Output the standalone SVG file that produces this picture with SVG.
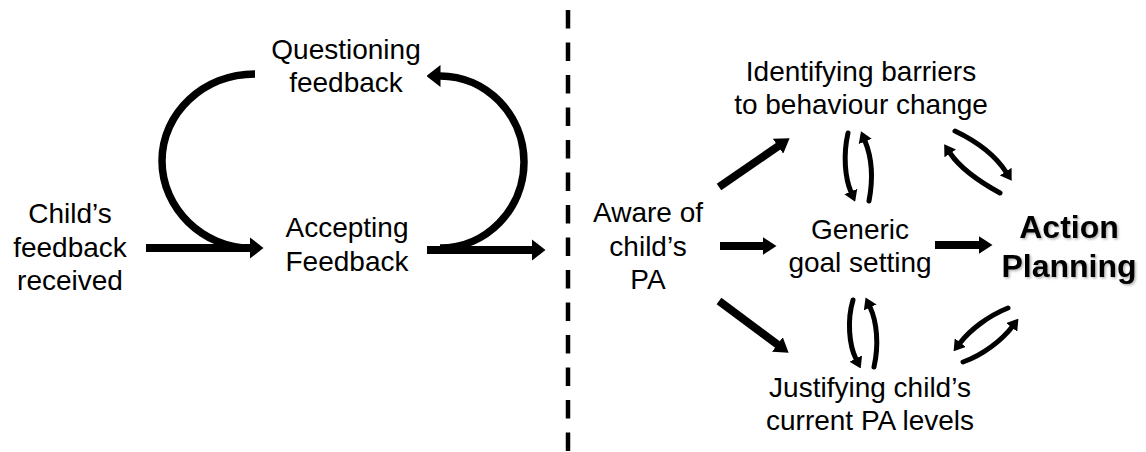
<svg xmlns="http://www.w3.org/2000/svg" width="1146" height="452" viewBox="0 0 1146 452">
<defs>
<style>
text{font-family:"Liberation Sans",Arial,sans-serif;font-size:28px;fill:#000;text-anchor:middle}
.bold{font-weight:bold;font-size:32px}
.thick{fill:none;stroke:#000;stroke-width:8}
.arc{fill:none;stroke:#000;stroke-width:7.5}
.thin{fill:none;stroke:#000;stroke-width:5;stroke-linecap:round}
</style>
<marker id="hL" markerUnits="userSpaceOnUse" viewBox="0 -11 14 22" markerWidth="14" markerHeight="22" refX="0.5" refY="0" orient="auto"><path d="M0,-11 L14,0 L0,11 Z" fill="#000"/></marker>
<marker id="hM" markerUnits="userSpaceOnUse" viewBox="0 -9 14 18" markerWidth="14" markerHeight="18" refX="0.5" refY="0" orient="auto"><path d="M0,-9 L14,0 L0,9 Z" fill="#000"/></marker>
<marker id="hS" markerUnits="userSpaceOnUse" viewBox="0 -7 11 14" markerWidth="11" markerHeight="14" refX="0.5" refY="0" orient="auto"><path d="M0,-7 L11,0 L0,7 Z" fill="#000"/></marker>
<filter id="sh" x="-10%" y="-20%" width="130%" height="150%"><feDropShadow dx="1.5" dy="1.5" stdDeviation="1.2" flood-color="#000" flood-opacity="0.3"/></filter>
</defs>
<line x1="568" y1="10" x2="568" y2="452" stroke="#000" stroke-width="4.5" stroke-dasharray="18.5 14"/>
<g id="connectors">
<path class="arc" d="M255,74 C203.6,74 162,113 162,161 C162,209 203.6,248 250,248"/>
<line class="thick" x1="146" y1="248" x2="250" y2="248" marker-end="url(#hL)"/>
<path class="arc" d="M440,248 C486,248 524,209.5 524,162 C524,114.5 486,76 440,76" marker-end="url(#hL)"/>
<line class="thick" x1="427" y1="250" x2="532" y2="250" marker-end="url(#hL)"/>
<line class="thick" x1="720" y1="246" x2="763" y2="246" marker-end="url(#hM)"/>
<line class="thick" x1="935" y1="245" x2="979" y2="245" marker-end="url(#hM)"/>
<line class="thick" x1="719" y1="187" x2="778.5" y2="146" marker-end="url(#hM)"/>
<line class="thick" x1="719" y1="301" x2="777.8" y2="344.7" marker-end="url(#hM)"/>
<path class="thin" d="M848,133 C843,155 845,178 851,192" marker-end="url(#hS)"/>
<path class="thin" d="M869,201 C873,180 872,158 865,141" marker-end="url(#hS)"/>
<path class="thin" d="M853,300 C847,320 849,345 856,359" marker-end="url(#hS)"/>
<path class="thin" d="M874,367 C879,345 877,322 870,307" marker-end="url(#hS)"/>
<path class="thin" d="M955,131 C980,143 997,158 1006,172" marker-end="url(#hS)"/>
<path class="thin" d="M1000,193 C980,182 960,168 950,153" marker-end="url(#hS)"/>
<path class="thin" d="M1008,308 C988,316 970,330 960,343" marker-end="url(#hS)"/>
<path class="thin" d="M963,362 C983,355 1002,340 1012,327" marker-end="url(#hS)"/>
</g>
<g id="child"><text x="70" y="223">Child’s</text><text x="70" y="257">feedback</text><text x="70" y="290">received</text></g>
<g id="questioning"><text x="346" y="59">Questioning</text><text x="346" y="92">feedback</text></g>
<g id="accepting"><text x="347" y="237">Accepting</text><text x="347" y="271">Feedback</text></g>
<g id="aware"><text x="648" y="222">Aware of</text><text x="648" y="256">child’s</text><text x="648" y="289">PA</text></g>
<g id="identifying"><text x="861" y="81">Identifying barriers</text><text x="861" y="114">to behaviour change</text></g>
<g id="generic"><text x="860" y="239">Generic</text><text x="860" y="272">goal setting</text></g>
<g id="action" filter="url(#sh)"><text class="bold" x="1069" y="238">Action</text><text class="bold" x="1069" y="277">Planning</text></g>
<g id="justifying"><text x="870" y="397">Justifying child’s</text><text x="870" y="430">current PA levels</text></g>
</svg>
